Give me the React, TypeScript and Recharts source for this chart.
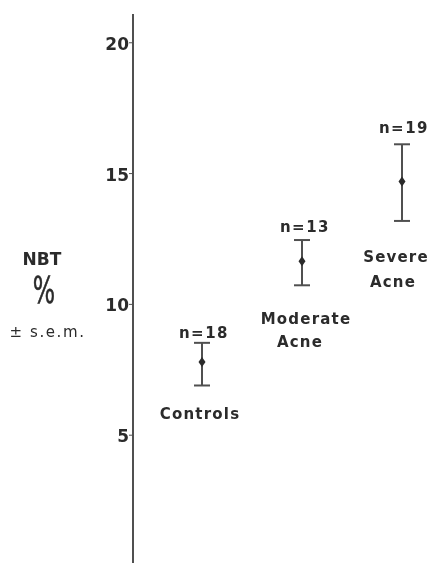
import React from 'react'
import {
  ScatterChart,
  Scatter,
  XAxis,
  YAxis,
  ErrorBar,
  ReferenceDot,
} from 'recharts'

const groups = ['Controls', 'Moderate Acne', 'Severe Acne']
const groupLines = [['Controls'], ['Moderate', 'Acne'], ['Severe', 'Acne']]
const nLabels = ['n=18', 'n=13', 'n=19']
const xPos = [1, 2, 3]
const means = [7.8, 11.65, 14.7]
const lows = [6.9, 10.73, 13.19]
const highs = [8.53, 12.46, 16.12]
const yTicks = [5, 10, 15, 20]

// label placement (pixels relative to the bar ends)
const layout = [
  { nDx: 2, nDy: -5, catDx: [-2], catDy: 34, gap: 0 },
  { nDx: 3, nDy: -8, catDx: [4, -2], catDy: 39, gap: 23 },
  { nDx: 2, nDy: -11, catDx: [-6, -9], catDy: 41, gap: 25 },
]

const INK = '#2b2b2b'
const LINE = '#505050'
const FONT = '"DejaVu Sans", sans-serif'

const rows = groups.map((g, i) => ({
  name: g,
  x: xPos[i],
  mean: means[i],
  err: [means[i] - lows[i], highs[i] - means[i]],
}))

function Diamond({ cx, cy }: any) {
  return (
    <path
      d={`M${cx},${cy - 5} L${cx + 3.5},${cy} L${cx},${cy + 5} L${cx - 3.5},${cy} Z`}
      fill={INK}
    />
  )
}

export default function App() {
  // fixed so the tall chart does not make the page scroll
  return (
    <div style={{ position: 'fixed', left: 8, top: 8, width: 426, height: 558 }}>
      <ScatterChart width={426} height={558} margin={{ top: 6, right: 0, left: 0, bottom: 0 }}>
        <XAxis type="number" dataKey="x" domain={[0.31, 3.32]} hide />
        <YAxis
          type="number"
          dataKey="mean"
          width={125}
          domain={[0, 21.1]}
          ticks={yTicks}
          allowDataOverflow
          tickSize={4}
          tickMargin={0}
          axisLine={{ stroke: LINE, strokeWidth: 2 }}
          tickLine={{ stroke: LINE, strokeWidth: 1 }}
          tick={{ fontSize: 17, fontWeight: 'bold', fill: INK, fontFamily: FONT, dy: 1 }}
        />
        <Scatter data={rows} dataKey="mean" shape={<Diamond />} isAnimationActive={false}>
          <ErrorBar dataKey="err" direction="y" width={8} stroke={LINE} strokeWidth={2} />
        </Scatter>
        {rows.map((r, i) => (
          <ReferenceDot
            key={'n' + i}
            x={r.x}
            y={highs[i]}
            r={0}
            shape={(p: any) => (
              <text
                x={p.cx + layout[i].nDx}
                y={p.cy + layout[i].nDy}
                textAnchor="middle"
                fontFamily={FONT}
                fontWeight="bold"
                fontSize={15}
                letterSpacing={1.5}
                fill={INK}
              >
                {nLabels[i]}
              </text>
            )}
          />
        ))}
        {rows.map((r, i) => (
          <ReferenceDot
            key={'c' + i}
            x={r.x}
            y={lows[i]}
            r={0}
            shape={(p: any) => (
              <text
                fontFamily={FONT}
                fontWeight="bold"
                fontSize={15}
                letterSpacing={1.2}
                fill={INK}
                textAnchor="middle"
              >
                {groupLines[i].map((line, j) => (
                  <tspan
                    key={j}
                    x={p.cx + layout[i].catDx[j]}
                    y={p.cy + layout[i].catDy + j * layout[i].gap}
                  >
                    {line}
                  </tspan>
                ))}
              </text>
            )}
          />
        ))}
      </ScatterChart>
      <svg
        width={120}
        height={558}
        style={{ position: 'absolute', left: 0, top: 0, pointerEvents: 'none' }}
      >
        <text x={34} y={257} textAnchor="middle" fontFamily={FONT} fontWeight="bold" fontSize={17} fill={INK}>
          NBT
        </text>
        <text
          x={0}
          y={0}
          textAnchor="middle"
          fontFamily={FONT}
          fontSize={38}
          stroke={INK}
          strokeWidth={0.6}
          fill={INK}
          transform="translate(36,295) scale(0.62,1)"
        >
          %
        </text>
        <text x={39.5} y={329} textAnchor="middle" fontFamily={FONT} fontSize={15} letterSpacing={1.6} fill={INK}>
          ± s.e.m.
        </text>
      </svg>
    </div>
  )
}
